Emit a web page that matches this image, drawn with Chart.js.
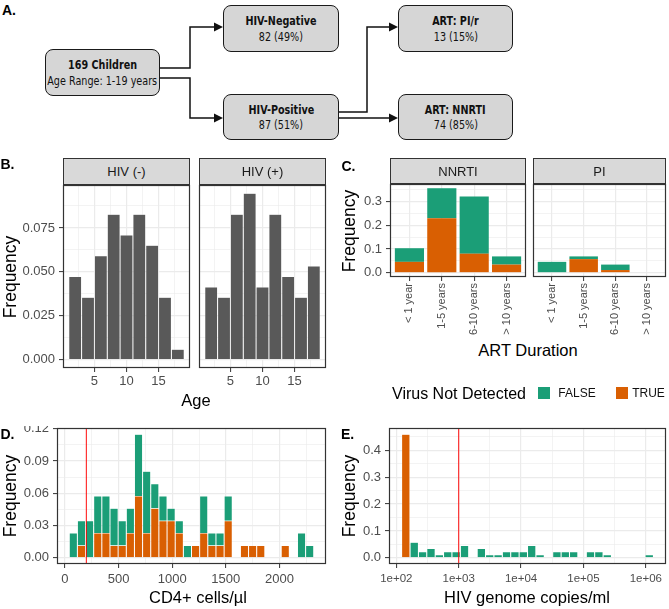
<!DOCTYPE html>
<html>
<head>
<meta charset="utf-8">
<title>Cohort overview</title>
<script src="https://cdn.jsdelivr.net/npm/chart.js@4.4.1/dist/chart.umd.min.js"></script>
<style>
  html, body { margin: 0; padding: 0; background: #fff; }
  body { position: relative; width: 669px; height: 609px; overflow: hidden;
         font-family: "Liberation Sans", Arial, sans-serif; color: #000; }
  canvas { position: absolute; }
  .t { position: absolute; line-height: 1; white-space: nowrap; transform: translate(-50%, -50%); }
  .rot { transform: translate(-50%, -50%) rotate(-90deg); }
  .tag { font-weight: bold; font-size: 14px; }
  .title { font-size: 16.5px; }
  .ylab { font-size: 17.5px; }
  .lab { font-size: 12px; color: #111; }
  .strip { position: absolute; box-sizing: border-box; background: #d9d9d9; border: 1px solid #333;
           font-size: 13px; color: #1a1a1a; display: flex; align-items: center; justify-content: center; }
  .box { position: absolute; box-sizing: border-box; background: #d6d6d6; border: 1.3px solid #1a1a1a;
         border-radius: 8px; display: flex; flex-direction: column; align-items: center; justify-content: center;
         font-family: "DejaVu Sans", sans-serif; font-size: 13px; color: #111; }
  .box b, .box span { display: block; line-height: 15.5px; white-space: nowrap; transform: scaleX(0.74); }
  .key { position: absolute; width: 12px; height: 12px; }
</style>
</head>
<body>

<!-- ---------------- A. flow diagram ---------------- -->
<svg width="669" height="150" style="position:absolute;left:0;top:0">
  <g fill="none" stroke="#111" stroke-width="1.5">
    <path d="M160 68H190V27H216"/>
    <path d="M160 78H190V118H216"/>
    <path d="M339 112H367V27H391"/>
    <path d="M339 118H391"/>
  </g>
  <g fill="#111">
    <path d="M223 27L214 22.5V31.5Z"/>
    <path d="M223 118L214 113.5V122.5Z"/>
    <path d="M398 27L389 22.5V31.5Z"/>
    <path d="M398 118L389 113.5V122.5Z"/>
  </g>
</svg>
<div class="box" style="left:45px;top:49px;width:115px;height:47px"><b>169 Children</b><span>Age Range: 1-19 years</span></div>
<div class="box" style="left:223px;top:5px;width:116px;height:47px"><b>HIV-Negative</b><span>82 (49%)</span></div>
<div class="box" style="left:223px;top:94px;width:116px;height:46px"><b>HIV-Positive</b><span>87 (51%)</span></div>
<div class="box" style="left:398px;top:5px;width:115px;height:47px"><b>ART: PI/r</b><span>13 (15%)</span></div>
<div class="box" style="left:398px;top:94px;width:115px;height:46px"><b>ART: NNRTI</b><span>74 (85%)</span></div>

<!-- ---------------- canvases ---------------- -->
<canvas id="ageNeg"></canvas>
<canvas id="agePos"></canvas>
<canvas id="artNnrti"></canvas>
<canvas id="artPi"></canvas>
<canvas id="cd4"></canvas>
<canvas id="vl"></canvas>

<!-- facet strips -->
<div class="strip" style="left:63px;top:158px;width:127px;height:27px">HIV (-)</div>
<div class="strip" style="left:199px;top:158px;width:127px;height:27px">HIV (+)</div>
<div class="strip" style="left:390px;top:158px;width:136px;height:26px">NNRTI</div>
<div class="strip" style="left:533px;top:158px;width:133px;height:26px">PI</div>

<!-- panel tags -->
<div class="t tag" style="left:9px;top:10px">A.</div>
<div class="t tag" style="left:7.5px;top:163.5px">B.</div>
<div class="t tag" style="left:348.5px;top:166px">C.</div>
<div class="t tag" style="left:7.5px;top:433.5px">D.</div>
<div class="t tag" style="left:347.5px;top:433.5px">E.</div>

<!-- axis titles -->
<div class="t title" style="left:196px;top:400px">Age</div>
<div class="t title" style="left:528px;top:350px">ART Duration</div>
<div class="t title" style="left:198px;top:597px">CD4+ cells/µl</div>
<div class="t title" style="left:527px;top:597px">HIV genome copies/ml</div>
<div class="t ylab rot" style="left:11px;top:276.5px">Frequency</div>
<div class="t ylab rot" style="left:350px;top:230.5px">Frequency</div>
<div class="t ylab rot" style="left:11px;top:496px">Frequency</div>
<div class="t ylab rot" style="left:350px;top:496px">Frequency</div>

<!-- legend -->
<div class="t" style="left:459px;top:394px;font-size:16px">Virus Not Detected</div>
<div class="key" style="left:538px;top:387px;background:#1B9E77"></div>
<div class="t lab" style="left:577px;top:393px">FALSE</div>
<div class="key" style="left:616px;top:387px;background:#D95F02"></div>
<div class="t lab" style="left:648.5px;top:393px">TRUE</div>

<script>
// ----------------------------------------------------
// DATA
// ----------------------------------------------------
// B. age histogram (bin centres, share of all 169 children)
const ageBins = [2, 4, 6, 8, 10, 12, 14, 16, 18];
const ageFreqNeg = [0.0473, 0.0355, 0.0592, 0.0828, 0.0710, 0.0828, 0.0651, 0.0355, 0.0059];
const ageFreqPos = [0.0414, 0.0355, 0.0828, 0.0947, 0.0414, 0.0828, 0.0473, 0.0355, 0.0533];
const ageTicks = [5, 10, 15];
const ageFreqTicks = [0, 0.025, 0.05, 0.075];

// C. ART duration by regimen, stacked by "virus not detected"
const artDurations = ["< 1 year", "1-5 years", "6-10 years", "> 10 years"];
const artPos = [1, 2, 3, 4];
const nnrtiTrue = [0.046, 0.2299, 0.0805, 0.0345];
const nnrtiFalse = [0.0575, 0.1264, 0.2414, 0.0345];
const piTrue = [0, 0.0575, 0.0115, 0];
const piFalse = [0.046, 0.0115, 0.023, 0];
const artFreqTicks = [0, 0.1, 0.2, 0.3];

// D. CD4+ histogram
const cd4Bins = [78, 154, 230, 306, 382, 458, 534, 610, 686, 762, 838, 914, 990, 1066, 1142,
                 1218, 1294, 1370, 1446, 1522, 1598, 1674, 1750, 1826, 1902, 1978, 2054, 2130, 2206, 2282];
const cd4True = [0, 0.0115, 0, 0.023, 0.023, 0.0115, 0.0115, 0.023, 0.0575, 0.023, 0.046, 0.0345, 0.0345, 0.023, 0,
                 0.0115, 0.023, 0.0115, 0.0115, 0.0345, 0, 0.0115, 0.0115, 0.0115, 0, 0, 0.0115, 0, 0, 0];
const cd4False = [0.023, 0.023, 0.0345, 0.0345, 0.0345, 0.0345, 0.023, 0.023, 0.0575, 0.0575, 0.023, 0.023, 0.0115, 0.0115, 0.0115,
                  0, 0.0345, 0.0115, 0.0115, 0.023, 0, 0, 0, 0, 0, 0, 0, 0, 0.023, 0.0115];
const cd4Ticks = [0, 500, 1000, 1500, 2000];
const cd4FreqTicks = [0, 0.03, 0.06, 0.09, 0.12];
const cd4Threshold = 200;

// E. viral load histogram (log scale)
const vlBins = [142, 194, 264, 360, 490, 668, 911, 1242, 1693, 2309, 3148, 4291, 5850, 7976, 10874,
                14825, 20210, 27555, 37566, 51215, 69823, 95190, 129780, 176930, 241210, 328850, 448330, 611220, 833290, 1136050];
const vlTrue = [0.4598, 0, 0, 0, 0, 0, 0, 0, 0, 0, 0, 0, 0, 0, 0,
                0, 0, 0, 0, 0, 0, 0, 0, 0, 0, 0, 0, 0, 0, 0];
const vlFalse = [0, 0.0575, 0.023, 0.0345, 0.0115, 0.023, 0.023, 0.046, 0, 0.0345, 0.0115, 0.0115, 0.023, 0.023, 0.023,
                 0.046, 0.0115, 0, 0.023, 0.023, 0.023, 0, 0.023, 0.023, 0.0115, 0, 0, 0, 0, 0.0115];
const vlTicks = [1e2, 1e3, 1e4, 1e5, 1e6];
const vlFreqTicks = [0, 0.1, 0.2, 0.3, 0.4];
const vlThreshold = 1000;

const COL_TRUE = "#D95F02";
const COL_FALSE = "#1B9E77";
const COL_HIST = "#595959";

// ----------------------------------------------------
// HELPERS
// ----------------------------------------------------
const PAD = 2;
const font = size => ({ family: "Liberation Sans", size });

// minor grid lines half way between the major ones (log space for log axes)
function halfSteps(majors, min, max, log) {
  const f = log ? Math.log10 : v => v;
  const g = log ? v => Math.pow(10, v) : v => v;
  const step = f(majors[1]) - f(majors[0]);
  const out = [];
  for (let v = f(majors[0]) - step / 2; v <= f(max); v += step) {
    if (v >= f(min)) out.push(g(v));
  }
  return out;
}

function axis(type, min, max, majors, fmt, opts) {
  const o = Object.assign({ size: 13, pad: 4, show: true, rot: 0, minors: true }, opts);
  const minors = o.minors ? halfSteps(majors, min, max, type === "logarithmic") : [];
  return {
    type, min, max, offset: false,
    afterBuildTicks(s) {
      s.ticks = majors.map(v => ({ value: v }))
        .concat(minors.map(v => ({ value: v, minor: true })))
        .sort((a, b) => a.value - b.value);
    },
    ticks: {
      display: o.show, autoSkip: false, maxRotation: o.rot, minRotation: o.rot,
      padding: o.pad, color: "#4d4d4d", font: font(o.size),
      callback(v, i, t) { return t[i].minor ? "" : fmt(v); }
    },
    grid: {
      offset: false,
      color: "#ebebeb",
      lineWidth: c => (c.tick && c.tick.minor ? 0.6 : 1.2),
      drawTicks: o.show, tickLength: 4, tickWidth: 1,
      tickColor: c => (c.tick && c.tick.minor ? "rgba(0,0,0,0)" : "#333")
    },
    border: { display: false }
  };
}

function points(xs, ys) {
  return xs.map((x, i) => ({ x, y: ys[i] === 0 ? null : ys[i] }));
}

function bars(xs, ys, color, pct, edge) {
  return {
    data: points(xs, ys),
    backgroundColor: color,
    borderColor: "rgba(255,255,255,0.55)",
    borderWidth: edge ? 0.5 : 0,
    barPercentage: pct, categoryPercentage: 1,
    inflateAmount: 0, stack: "s"
  };
}

// dark panel border drawn on top of the bars
const frame = {
  id: "frame",
  afterDraw(chart) {
    const a = chart.chartArea, c = chart.ctx;
    c.save();
    c.strokeStyle = "#333";
    c.lineWidth = 1.2;
    c.strokeRect(a.left + 0.5, a.top + 0.5, a.right - a.left - 1, a.bottom - a.top - 1);
    c.restore();
  }
};

// thin red threshold line, placed through the x scale
function vline(value) {
  return {
    id: "vline",
    afterDraw(chart) {
      const a = chart.chartArea, c = chart.ctx;
      const x = chart.scales.x.getPixelForValue(value);
      c.save();
      c.globalAlpha = 1;
      c.globalCompositeOperation = "source-over";
      c.setLineDash([]);
      c.fillStyle = "rgba(255,0,0,0.8)";
      c.fillRect(x - 0.6, a.top + 1, 1.2, a.bottom - a.top - 2);
      c.restore();
    }
  };
}

// r = plot rectangle on the page + room for the y labels (yw) and x labels (xh)
function panel(id, r, xScale, yScale, datasets, extra) {
  const cv = document.getElementById(id);
  cv.width = r.R - r.L + r.yw + PAD;
  cv.height = r.B - r.T + r.xh + PAD;
  cv.style.left = (r.L - r.yw) + "px";
  cv.style.top = (r.T - PAD) + "px";
  xScale.afterFit = s => { s.height = r.xh; s.paddingLeft = 0; s.paddingRight = 0; };
  yScale.afterFit = s => { s.width = r.yw; s.paddingTop = 0; s.paddingBottom = 0; };
  yScale.stacked = true;
  return new Chart(cv, {
    type: "bar",
    data: { datasets },
    options: {
      responsive: false, animation: false, events: [],
      layout: { padding: { top: PAD, right: PAD, left: 0, bottom: 0 } },
      plugins: { legend: { display: false }, tooltip: { enabled: false } },
      scales: { x: xScale, y: yScale }
    },
    plugins: [frame].concat(extra || [])
  });
}

// ----------------------------------------------------
// B. AGE HISTOGRAMS
// ----------------------------------------------------
const fmt3 = v => v.toFixed(3);
const ageX = () => axis("linear", 0.1, 19.9, ageTicks, v => String(v), { pad: 2 });

panel("ageNeg", { L: 63, R: 190, T: 185, B: 368, yw: 63, xh: 24 },
  ageX(), axis("linear", -0.00474, 0.09945, ageFreqTicks, fmt3),
  [bars(ageBins, ageFreqNeg, COL_HIST, 1, true)]);

panel("agePos", { L: 199, R: 326, T: 185, B: 368, yw: 2, xh: 24 },
  ageX(), axis("linear", -0.00474, 0.09945, ageFreqTicks, fmt3, { show: false }),
  [bars(ageBins, ageFreqPos, COL_HIST, 1, true)]);

// ----------------------------------------------------
// C. ART DURATION
// ----------------------------------------------------
const durX = () => axis("linear", 0.4, 4.6, artPos, v => artDurations[v - 1],
  { minors: false, rot: 90, size: 11, pad: 2 });

panel("artNnrti", { L: 390, R: 526, T: 184, B: 277, yw: 50, xh: 62 },
  durX(), axis("linear", -0.0178, 0.3741, artFreqTicks, v => v.toFixed(1)),
  [bars(artPos, nnrtiTrue, COL_TRUE, 0.9, false), bars(artPos, nnrtiFalse, COL_FALSE, 0.9, false)]);

panel("artPi", { L: 533, R: 666, T: 184, B: 277, yw: 2, xh: 62 },
  durX(), axis("linear", -0.0178, 0.3741, artFreqTicks, v => v.toFixed(1), { show: false }),
  [bars(artPos, piTrue, COL_TRUE, 0.9, false), bars(artPos, piFalse, COL_FALSE, 0.9, false)]);

// ----------------------------------------------------
// D. CD4+ COUNTS
// ----------------------------------------------------
panel("cd4", { L: 57, R: 326, T: 428, B: 564, yw: 57, xh: 26 },
  axis("linear", -74, 2434, cd4Ticks, v => String(v)),
  axis("linear", -0.00575, 0.12075, cd4FreqTicks, v => v.toFixed(2)),
  [bars(cd4Bins, cd4True, COL_TRUE, 1, true), bars(cd4Bins, cd4False, COL_FALSE, 1, true)],
  [vline(cd4Threshold)]);

// ----------------------------------------------------
// E. VIRAL LOAD
// ----------------------------------------------------
panel("vl", { L: 389, R: 666, T: 428, B: 564, yw: 49, xh: 26 },
  axis("logarithmic", 76.4, 2108600, vlTicks, v => "1e+0" + Math.round(Math.log10(v)), { size: 11.5 }),
  axis("linear", -0.023, 0.4828, vlFreqTicks, v => v.toFixed(1)),
  [bars(vlBins, vlTrue, COL_TRUE, 1, true), bars(vlBins, vlFalse, COL_FALSE, 1, true)],
  [vline(vlThreshold)]);
</script>
</body>
</html>
